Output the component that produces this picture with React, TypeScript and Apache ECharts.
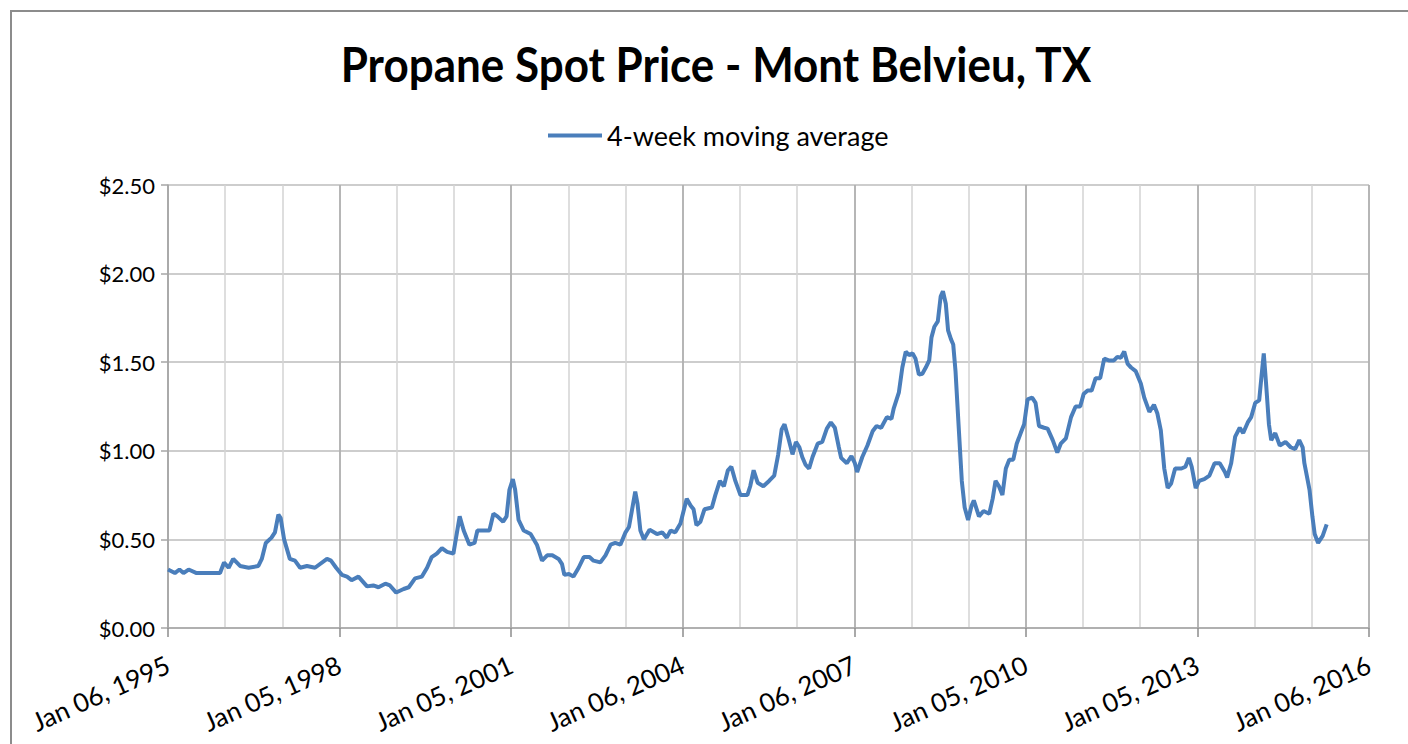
import React, { useEffect, useRef } from "react";
import * as echarts from "echarts";

const TITLE = "Propane Spot Price - Mont Belvieu, TX";
const SERIES_NAME = "4-week moving average";
const TICK_YEARS = [1995, 1998, 2001, 2004, 2007, 2010, 2013, 2016];
const TICK_LABELS = [
  "Jan 06, 1995",
  "Jan 05, 1998",
  "Jan 05, 2001",
  "Jan 06, 2004",
  "Jan 06, 2007",
  "Jan 05, 2010",
  "Jan 05, 2013",
  "Jan 06, 2016",
];

// dates as fractional years
const years = [
  1995.0, 1995.12, 1995.2, 1995.27, 1995.36, 1995.5, 1995.91, 1995.98, 1996.06, 1996.14,
  1996.26, 1996.41, 1996.58, 1996.64, 1996.71, 1996.81, 1996.87, 1996.93, 1996.97, 1997.03,
  1997.13, 1997.22, 1997.31, 1997.43, 1997.57, 1997.78, 1997.85, 1997.94, 1998.04, 1998.13,
  1998.21, 1998.33, 1998.48, 1998.59, 1998.68, 1998.8, 1998.88, 1998.99, 1999.12, 1999.21,
  1999.32, 1999.44, 1999.53, 1999.61, 1999.7, 1999.79, 1999.88, 1999.99, 2000.1, 2000.17,
  2000.27, 2000.36, 2000.41, 2000.55, 2000.62, 2000.69, 2000.76, 2000.86, 2000.92, 2000.97,
  2001.03, 2001.07, 2001.13, 2001.22, 2001.34, 2001.45, 2001.54, 2001.63, 2001.72, 2001.83,
  2001.89, 2001.93, 2002.01, 2002.09, 2002.18, 2002.27, 2002.37, 2002.44, 2002.56, 2002.65,
  2002.74, 2002.82, 2002.91, 2003.0, 2003.06, 2003.11, 2003.17, 2003.21, 2003.26, 2003.32,
  2003.42, 2003.55, 2003.64, 2003.72, 2003.79, 2003.87, 2003.96, 2004.07, 2004.14, 2004.19,
  2004.24, 2004.31, 2004.38, 2004.51, 2004.57, 2004.65, 2004.72, 2004.79, 2004.85, 2004.92,
  2005.01, 2005.13, 2005.18, 2005.24, 2005.31, 2005.41, 2005.51, 2005.6, 2005.67, 2005.73,
  2005.78, 2005.84, 2005.92, 2005.98, 2006.04, 2006.09, 2006.15, 2006.21, 2006.27, 2006.36,
  2006.44, 2006.52, 2006.59, 2006.66, 2006.73, 2006.77, 2006.87, 2006.95, 2007.01, 2007.05,
  2007.14, 2007.23, 2007.32, 2007.39, 2007.47, 2007.57, 2007.65, 2007.69, 2007.78, 2007.84,
  2007.9, 2007.96, 2008.02, 2008.07, 2008.13, 2008.19, 2008.25, 2008.31, 2008.35, 2008.4,
  2008.46, 2008.51, 2008.55, 2008.6, 2008.64, 2008.69, 2008.73, 2008.77, 2008.83, 2008.88,
  2008.93, 2008.99, 2009.05, 2009.09, 2009.18, 2009.26, 2009.36, 2009.42, 2009.47, 2009.53,
  2009.59, 2009.65, 2009.71, 2009.78, 2009.84, 2009.91, 2009.97, 2010.03, 2010.11, 2010.17,
  2010.23, 2010.32, 2010.38, 2010.47, 2010.55, 2010.61, 2010.7, 2010.79, 2010.87, 2010.95,
  2011.01, 2011.08, 2011.15, 2011.22, 2011.3, 2011.37, 2011.45, 2011.54, 2011.6, 2011.66,
  2011.72, 2011.78, 2011.84, 2011.92, 2012.01, 2012.07, 2012.16, 2012.24, 2012.3, 2012.36,
  2012.42, 2012.48, 2012.54, 2012.61, 2012.72, 2012.79, 2012.85, 2012.9, 2012.97, 2013.03,
  2013.12, 2013.21, 2013.3, 2013.39, 2013.48, 2013.52, 2013.59, 2013.66, 2013.74, 2013.8,
  2013.88, 2013.94, 2014.01, 2014.08, 2014.12, 2014.16, 2014.2, 2014.25, 2014.29, 2014.36,
  2014.44, 2014.54, 2014.63, 2014.71, 2014.78, 2014.84, 2014.87, 2014.93, 2014.96, 2015.01,
  2015.05, 2015.11, 2015.19, 2015.26,
];

// 4-week moving average price, $ per gallon
const prices = [
  0.33, 0.31, 0.33, 0.31, 0.33, 0.31, 0.31, 0.37, 0.34, 0.39,
  0.35, 0.34, 0.35, 0.39, 0.48, 0.51, 0.54, 0.64, 0.62, 0.5,
  0.39, 0.38, 0.34, 0.35, 0.34, 0.39, 0.38, 0.34, 0.3, 0.29,
  0.27, 0.29, 0.235, 0.24, 0.23, 0.25, 0.24, 0.2, 0.22, 0.23,
  0.28, 0.29, 0.34, 0.4, 0.42, 0.45, 0.43, 0.42, 0.63, 0.55,
  0.47, 0.48, 0.55, 0.55, 0.55, 0.645, 0.63, 0.6, 0.63, 0.78,
  0.84, 0.78, 0.61, 0.55, 0.53, 0.47, 0.38, 0.41, 0.41, 0.39,
  0.36, 0.3, 0.305, 0.29, 0.34, 0.4, 0.4, 0.38, 0.37, 0.41,
  0.47, 0.48, 0.47, 0.54, 0.57, 0.66, 0.77, 0.7, 0.55, 0.5,
  0.555, 0.53, 0.54, 0.51, 0.55, 0.54, 0.59, 0.73, 0.69, 0.67,
  0.58, 0.6, 0.67, 0.68, 0.75, 0.83, 0.8, 0.89, 0.91, 0.83,
  0.75, 0.75, 0.8, 0.89, 0.82, 0.8, 0.83, 0.86, 0.98, 1.12,
  1.15, 1.08, 0.98, 1.05, 1.02, 0.965, 0.92, 0.9, 0.965, 1.04,
  1.05, 1.125, 1.16, 1.13, 1.02, 0.96, 0.93, 0.97, 0.93, 0.88,
  0.965, 1.03, 1.11, 1.14, 1.13, 1.19, 1.18, 1.24, 1.33, 1.47,
  1.56, 1.54, 1.55, 1.52, 1.43, 1.435, 1.47, 1.51, 1.64, 1.7,
  1.73, 1.87, 1.9, 1.83, 1.68, 1.63, 1.6, 1.45, 1.11, 0.83,
  0.68, 0.61, 0.69, 0.72, 0.63, 0.66, 0.645, 0.73, 0.83, 0.8,
  0.75, 0.9, 0.95, 0.95, 1.04, 1.1, 1.15, 1.29, 1.3, 1.27,
  1.14, 1.13, 1.125, 1.06, 0.99, 1.04, 1.07, 1.19, 1.25, 1.25,
  1.32, 1.34, 1.34, 1.41, 1.41, 1.52, 1.51, 1.51, 1.53, 1.525,
  1.56, 1.49, 1.47, 1.45, 1.38, 1.3, 1.22, 1.26, 1.21, 1.115,
  0.9, 0.79, 0.815, 0.9, 0.9, 0.91, 0.96, 0.91, 0.79, 0.83,
  0.84, 0.86, 0.93, 0.93, 0.88, 0.85, 0.93, 1.08, 1.13, 1.1,
  1.16, 1.19, 1.27, 1.285, 1.42, 1.55, 1.38, 1.15, 1.06, 1.1,
  1.03, 1.05, 1.02, 1.01, 1.06, 1.02, 0.93, 0.83, 0.78, 0.63,
  0.53, 0.48, 0.52, 0.585,
];

const FONT = "Lato, 'Open Sans', sans-serif";

export default function App() {
  const ref = useRef<HTMLDivElement>(null);

  useEffect(() => {
    if (!ref.current) return;
    const chart = echarts.init(ref.current, undefined, { renderer: "svg" });
    const data = years.map((y, i) => [y, prices[i]]);

    chart.setOption({
      animation: false,
      backgroundColor: "#ffffff",
      textStyle: { fontFamily: FONT },
      graphic: [
        {
          type: "rect",
          silent: true,
          z: -10,
          shape: { x: 11, y: 11, width: 1500, height: 800 },
          style: { fill: "none", stroke: "#8c8c8c", lineWidth: 2 },
        },
        {
          type: "text",
          x: 716,
          y: 63,
          scaleY: 1.1,
          style: {
            text: TITLE,
            fontFamily: FONT,
            fontWeight: "bold",
            fontSize: 44,
            fill: "#000000",
            textAlign: "center",
            textVerticalAlign: "middle",
          },
        },
      ],
      legend: {
        data: [SERIES_NAME],
        left: 543,
        top: 117,
        icon: "rect",
        itemWidth: 54,
        itemHeight: 4,
        textStyle: { fontFamily: FONT, fontSize: 27, color: "#000000" },
      },
      grid: { left: 168, right: 39, top: 185, bottom: 116, containLabel: false },
      xAxis: [
        {
          type: "value",
          position: "bottom",
          min: 1995,
          max: 2016,
          interval: 1,
          axisLine: { show: true, lineStyle: { color: "#a6a6a6", width: 1.5 } },
          axisTick: { show: false },
          axisLabel: { show: false },
          splitLine: { show: true, lineStyle: { color: "#d3d3d3", width: 1.5 } },
        },
        {
          type: "value",
          position: "bottom",
          min: 1995,
          max: 2016,
          interval: 3,
          axisLine: { show: false },
          axisTick: { show: true, length: 9, lineStyle: { color: "#8c8c8c", width: 1.5 } },
          axisLabel: {
            show: true,
            rotate: 24,
            margin: 35,
            fontSize: 26,
            fontFamily: FONT,
            color: "#000000",
            formatter: (v: number) => {
              const i = TICK_YEARS.indexOf(Math.round(v));
              return i >= 0 ? TICK_LABELS[i] : "";
            },
          },
          splitLine: { show: true, lineStyle: { color: "#a9a9a9", width: 1.5 } },
        },
      ],
      yAxis: {
        type: "value",
        min: 0,
        max: 2.5,
        interval: 0.5,
        axisLine: { show: true, lineStyle: { color: "#a6a6a6", width: 1.5 } },
        axisTick: { show: true, length: 7, lineStyle: { color: "#a6a6a6", width: 1.5 } },
        axisLabel: {
          fontSize: 22,
          margin: 13,
          fontFamily: FONT,
          color: "#000000",
          formatter: (v: number) => "$" + v.toFixed(2),
        },
        splitLine: { show: true, lineStyle: { color: "#bdbdbd", width: 1.5 } },
      },
      series: [
        {
          name: SERIES_NAME,
          type: "line",
          xAxisIndex: 0,
          data,
          showSymbol: false,
          symbol: "none",
          smooth: false,
          lineStyle: { color: "#4a7ebb", width: 4 },
          itemStyle: { color: "#4a7ebb" },
        },
      ],
    });

    return () => chart.dispose();
  }, []);

  return (
    <div
      ref={ref}
      style={{ position: "fixed", left: 0, top: 0, width: 1408, height: 744, background: "#fff" }}
    />
  );
}
